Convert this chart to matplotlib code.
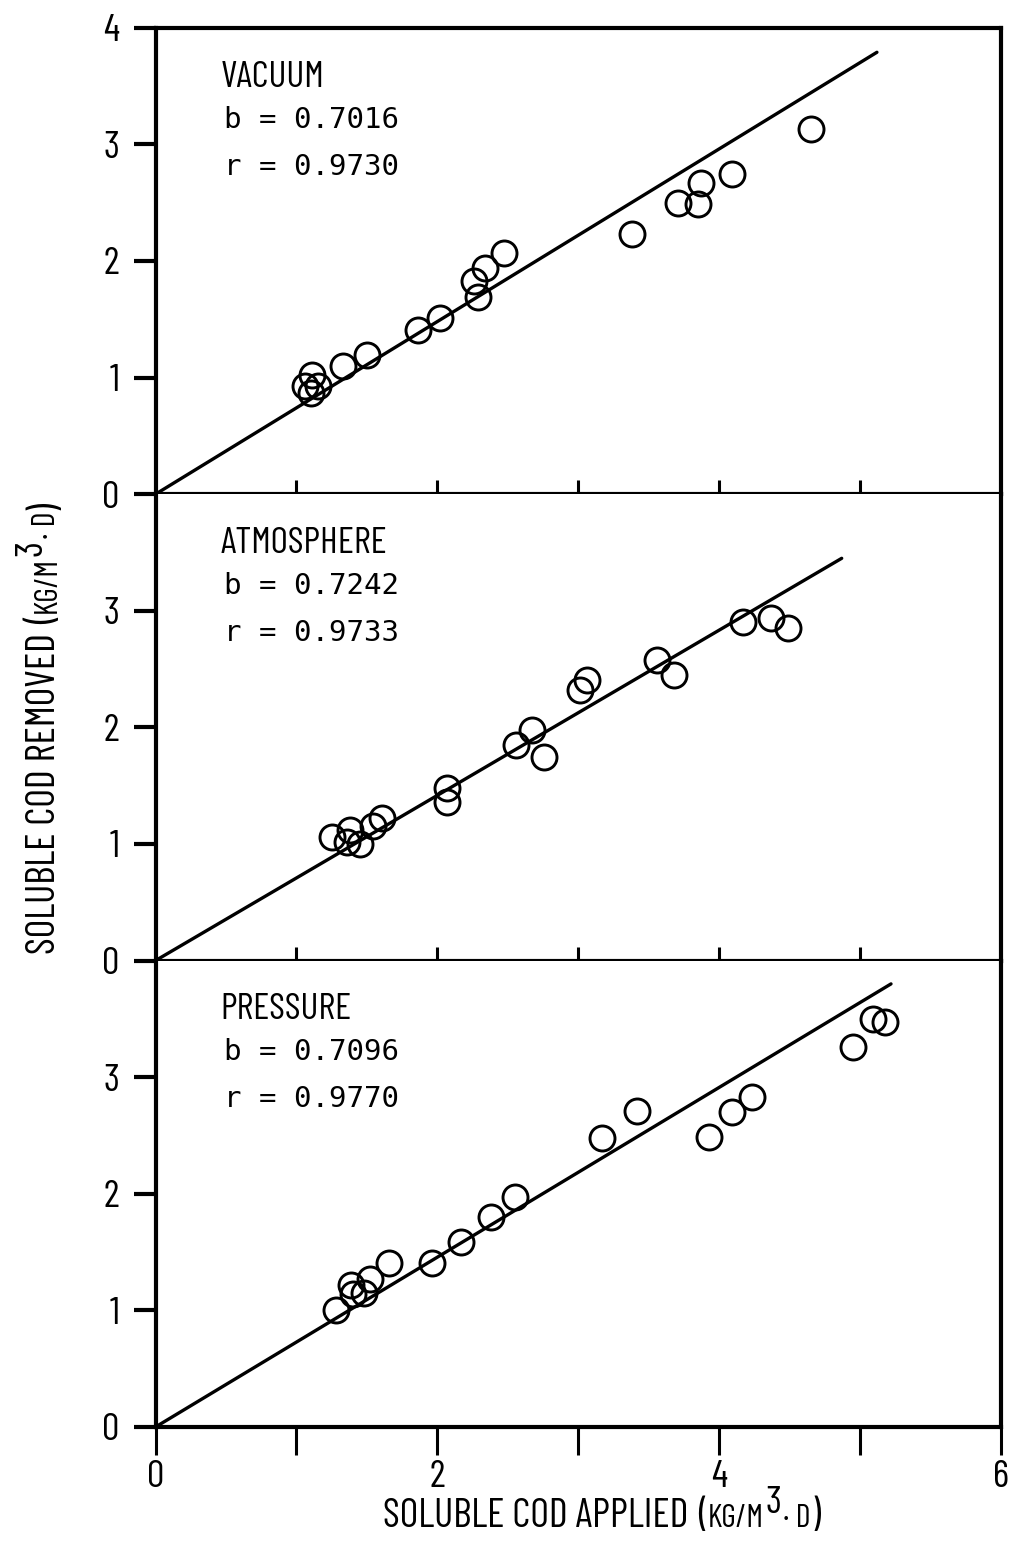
import matplotlib
matplotlib.use("Agg")
import matplotlib.pyplot as plt
from matplotlib.text import Annotation

# narrow typeface like the original lettering guide; DejaVu as fallback
NARROW = ['Barlow Condensed', 'DejaVu Sans']
MONO = ['DejaVu Sans Mono']

# ── data ─────────────────────────────────────────────────────────────────────
panel_names = ['VACUUM', 'ATMOSPHERE', 'PRESSURE']
slope_b = ['0.7016', '0.7242', '0.7096']
corr_r = ['0.9730', '0.9733', '0.9770']

vac_x = [1.06, 1.11, 1.10, 1.15, 1.33, 1.50, 1.86, 2.02, 2.26, 2.29, 2.34, 2.47,
         3.38, 3.71, 3.85, 3.87, 4.09, 4.65]
vac_y = [0.93, 1.02, 0.87, 0.93, 1.10, 1.19, 1.41, 1.51, 1.83, 1.69, 1.94, 2.07,
         2.23, 2.50, 2.49, 2.67, 2.75, 3.13]

atm_x = [1.25, 1.36, 1.38, 1.45, 1.54, 1.61, 2.07, 2.07, 2.56, 2.67, 2.76, 3.01,
         3.06, 3.56, 3.68, 4.17, 4.37, 4.49]
atm_y = [1.06, 1.02, 1.12, 1.00, 1.15, 1.22, 1.48, 1.36, 1.85, 1.98, 1.75, 2.32,
         2.41, 2.58, 2.45, 2.90, 2.94, 2.85]

prs_x = [1.28, 1.39, 1.40, 1.48, 1.52, 1.66, 1.96, 2.17, 2.38, 2.55, 3.17, 3.42,
         3.93, 4.09, 4.23, 4.95, 5.09, 5.18]
prs_y = [1.00, 1.22, 1.14, 1.15, 1.27, 1.41, 1.41, 1.59, 1.80, 1.97, 2.48, 2.71,
         2.49, 2.70, 2.83, 3.26, 3.50, 3.47]

# fitted lines as drawn: from the origin to these end points
line_end_x = [5.12, 4.87, 5.22]
line_end_y = [3.79, 3.45, 3.80]

series = [(vac_x, vac_y), (atm_x, atm_y), (prs_x, prs_y)]

# unit string in pieces: (text, fontsize, raised?)  -- small caps look
UNIT_PARTS = [('(', 29, False), ('KG/M', 23, False), ('3', 28, True),
              ('· D', 23, False), (')', 29, False)]


def add_units(fig, start, vertical=False):
    """Chain the unit pieces after `start`, on the same base line."""
    renderer = fig.canvas.get_renderer()
    _, _, d = renderer.get_text_width_height_descent(
        'lp', start.get_fontproperties(), ismath=False)
    d_pt = d * 72.0 / fig.dpi          # base line sits this far above bbox edge
    prev = start
    for k, (txt, size, raised) in enumerate(UNIT_PARTS):
        rise = 10 if raised else 0
        gap = 7 if k == 0 else 1
        if vertical:
            a = Annotation(txt, xy=(1, 1), xycoords=(start, prev),
                           ha='left', va='baseline', rotation=90,
                           rotation_mode='anchor', fontsize=size,
                           family=NARROW, xytext=(-(d_pt + rise), gap),
                           textcoords='offset points')
        else:
            a = Annotation(txt, xy=(1, 0), xycoords=(prev, start),
                           ha='left', va='baseline', fontsize=size,
                           family=NARROW, xytext=(gap, d_pt + rise),
                           textcoords='offset points')
        fig.add_artist(a)
        prev = a


# ── figure ───────────────────────────────────────────────────────────────────
fig = plt.figure(figsize=(10.1, 15.44), dpi=100)
gs = fig.add_gridspec(3, 1, left=0.154, right=0.991, bottom=0.0758, top=0.982,
                      hspace=0.0)

SPINE_W = 3.0

for i in range(3):
    ax = fig.add_subplot(gs[i, 0])
    xs, ys = series[i]

    ax.plot([0, line_end_x[i]], [0, line_end_y[i]], color='black', lw=2.4,
            solid_capstyle='round', zorder=2)
    ax.plot(xs, ys, linestyle='none', marker='o', markersize=18,
            markerfacecolor='none', markeredgecolor='black',
            markeredgewidth=2.1, zorder=3)

    ax.set_xlim(0, 6)
    ax.set_ylim(0, 4)

    for sp in ax.spines.values():
        sp.set_linewidth(SPINE_W)

    if i == 0:
        ax.set_yticks([0, 1, 2, 3, 4])
    else:
        ax.set_yticks([0, 1, 2, 3])
        ax.spines['top'].set_visible(False)
    ax.tick_params(axis='y', direction='out', length=16, width=SPINE_W,
                   pad=10, labelsize=28)

    if i < 2:
        ax.set_xticks([1, 2, 3, 4, 5])
        ax.set_xticklabels([])
        ax.tick_params(axis='x', direction='inout', length=20, width=2.2)
    else:
        ax.set_xticks([0, 1, 2, 3, 4, 5, 6])
        ax.set_xticklabels(['0', '', '2', '', '4', '', '6'])
        ax.tick_params(axis='x', direction='out', length=20, width=2.2,
                       pad=4, labelsize=28)

    for lab in ax.get_xticklabels() + ax.get_yticklabels():
        lab.set_family(NARROW)

    ax.text(0.077, 0.874, panel_names[i], transform=ax.transAxes,
            fontsize=27, family=NARROW, va='baseline')
    ax.text(0.081, 0.786, 'b = ' + slope_b[i], transform=ax.transAxes,
            fontsize=21, family=MONO, va='baseline')
    ax.text(0.081, 0.685, 'r = ' + corr_r[i], transform=ax.transAxes,
            fontsize=21, family=MONO, va='baseline')

# axis titles, with the unit part in small caps
xl = fig.text(0.379, 0.006, 'SOLUBLE COD APPLIED', fontsize=29,
              family=NARROW, ha='left', va='bottom')
add_units(fig, xl)

yl = fig.text(0.026, 0.382, 'SOLUBLE COD REMOVED', fontsize=29,
              family=NARROW, rotation=90, ha='left', va='bottom')
add_units(fig, yl, vertical=True)

fig.savefig('out.png', dpi=100)
